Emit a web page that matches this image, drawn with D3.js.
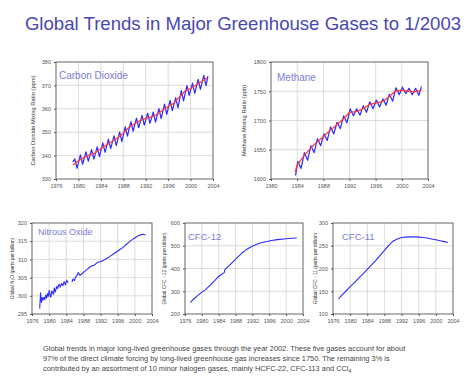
<!DOCTYPE html>
<html>
<head>
<meta charset="utf-8">
<script src="https://cdn.jsdelivr.net/npm/d3@7"></script>
<style>
body { margin: 0; background: #fff; }
svg { font-family: "Liberation Sans", Arial, sans-serif; }
.grid line { stroke: #d4d4d4; stroke-width: 0.8; }
.tick text { fill: #555; font-size: 5.5px; }
.frame { fill: none; stroke: #555; stroke-width: 0.9; }
</style>
</head>
<body>
<svg id="chart" width="467" height="379"></svg>
<script>
// CO2 (ppm): trend line (red) and seasonal record (blue)
var co2Years = [1979, 1980, 1981, 1982, 1983, 1984, 1985, 1986, 1987, 1988, 1989, 1990, 1991,
    1992, 1993, 1994, 1995, 1996, 1997, 1998, 1999, 2000, 2001, 2002, 2003];
var co2Trend = [336.0, 337.8, 339.2, 340.3, 341.2, 343.0, 344.6, 346.0, 347.6, 349.6, 352.0, 353.6, 355.0,
    355.9, 356.4, 357.6, 359.5, 361.0, 362.3, 365.0, 367.6, 368.6, 370.2, 371.8, 373.2];
var co2MonthX = [1979.0, 1979.35, 1979.75, 1980.35, 1980.75, 1981.35, 1981.75, 1982.35, 1982.75, 1983.35, 1983.75,
    1984.35, 1984.75, 1985.35, 1985.75, 1986.35, 1986.75, 1987.35, 1987.75, 1988.35, 1988.75, 1989.35, 1989.75,
    1990.35, 1990.75, 1991.35, 1991.75, 1992.35, 1992.75, 1993.35, 1993.75, 1994.35, 1994.75, 1995.35, 1995.75,
    1996.35, 1996.75, 1997.35, 1997.75, 1998.35, 1998.75, 1999.35, 1999.75, 2000.35, 2000.75, 2001.35, 2001.75,
    2002.35, 2002.75, 2003.1];
var co2Month = [337.2, 338.6, 334.5, 340.3, 336.3, 341.6, 337.6, 342.6, 338.5, 343.7, 339.6,
    345.4, 341.4, 347.0, 343.0, 348.4, 344.3, 350.1, 346.0, 352.3, 348.3, 354.5, 350.4,
    356.0, 351.9, 357.2, 353.0, 358.1, 353.8, 358.6, 354.3, 360.1, 355.8, 362.0, 357.6,
    363.6, 359.2, 364.8, 360.4, 367.8, 363.4, 369.9, 365.7, 371.0, 366.6, 372.6, 368.3,
    374.3, 369.9, 374.0];

// CH4 (ppb)
var ch4Years = [1983.7, 1984, 1985, 1986, 1987, 1988, 1989, 1990, 1991, 1992, 1993, 1994, 1995,
    1996, 1997, 1998, 1999, 2000, 2001, 2002, 2003];
var ch4Trend = [1612, 1624, 1639, 1652, 1663, 1672, 1683, 1692, 1702, 1714, 1715, 1720, 1727,
    1730, 1732, 1740, 1750, 1752, 1750, 1749, 1752];
var ch4MonthX = [1983.75, 1984.1, 1984.6, 1985.1, 1985.6, 1986.1, 1986.6, 1987.1, 1987.6, 1988.1, 1988.6,
    1989.1, 1989.6, 1990.1, 1990.6, 1991.1, 1991.6, 1992.1, 1992.6, 1993.1, 1993.6, 1994.1, 1994.6,
    1995.1, 1995.6, 1996.1, 1996.6, 1997.1, 1997.6, 1998.1, 1998.6, 1999.1, 1999.6, 2000.1, 2000.6,
    2001.1, 2001.6, 2002.1, 2002.6, 2003.0];
var ch4Month = [1606, 1630, 1618, 1645, 1632, 1657, 1645, 1669, 1657, 1677, 1666,
    1689, 1677, 1697, 1686, 1708, 1696, 1720, 1708, 1720, 1709, 1725, 1714,
    1732, 1720, 1735, 1723, 1737, 1726, 1745, 1733, 1756, 1744, 1757, 1746,
    1755, 1744, 1755, 1743, 1758];

// N2O (ppb), gap in 1985
var n2oYears = [1977.8, 1978.0, 1978.2, 1978.4, 1978.6, 1978.8, 1979.0, 1979.2, 1979.4, 1979.6, 1979.8,
    1980.0, 1980.2, 1980.4, 1980.6, 1980.8, 1981.0, 1981.2, 1981.4, 1981.6, 1981.8, 1982.0, 1982.3,
    1982.6, 1982.9, 1983.2, 1983.5, 1983.8, 1984.1, 1984.4,
    null,
    1985.3, 1985.6, 1985.9, 1986.2, 1986.5, 1986.8, 1987.2, 1987.6, 1988.0, 1988.5, 1989.0, 1989.5,
    1990.0, 1990.5, 1991.0, 1991.5, 1992.0, 1992.5, 1993.0, 1993.5, 1994.0, 1994.5, 1995.0, 1995.5,
    1996.0, 1996.5, 1997.0, 1997.5, 1998.0, 1998.5, 1999.0, 1999.5, 2000.0, 2000.5, 2001.0, 2001.5,
    2002.0, 2002.5];
var n2oValues = [296.5, 300.8, 298.2, 299.5, 298.8, 299.6, 299.0, 300.2, 299.4, 300.6, 299.8,
    301.5, 300.2, 299.6, 301.4, 300.8, 300.4, 302.2, 301.0, 301.8, 302.6, 302.0, 303.2,
    302.4, 303.4, 302.8, 303.9, 303.0, 304.3, 303.6,
    null,
    303.8, 304.6, 304.2, 305.2, 305.6, 306.4, 305.6, 306.0, 306.4, 306.9, 307.4, 307.9,
    308.3, 308.4, 308.9, 309.3, 309.4, 309.6, 310.0, 310.3, 310.7, 311.1, 311.5, 311.9,
    312.3, 312.7, 313.1, 313.6, 314.1, 314.6, 315.1, 315.5, 315.9, 316.3, 316.6, 316.8,
    316.9, 316.7];

// CFC-12 (ppt)
var cfc12Years = [1977.3, 1978.0, 1979.0, 1980.0, 1980.8, 1982.0, 1983.0, 1983.9, 1984.8, 1985.3, 1985.5,
    1986.5, 1987.5, 1988.5, 1989.5, 1990.5, 1991.5, 1992.5, 1993.5, 1994.5, 1995.5, 1996.5, 1997.5,
    1998.5, 1999.5, 2000.5, 2001.5, 2002.5];
var cfc12Values = [251, 265, 281, 296, 306, 327, 346, 364, 376, 382, 396,
    413, 431, 450, 468, 482, 493, 502, 510, 515, 519, 523, 526,
    528, 530, 532, 533, 534];

// CFC-11 (ppt)
var cfc11Years = [1977.3, 1978.0, 1979.0, 1980.0, 1981.0, 1982.0, 1983.0, 1984.0, 1985.0, 1986.0, 1987.0,
    1988.0, 1989.0, 1990.0, 1991.0, 1992.0, 1993.0, 1994.0, 1995.0, 1996.0, 1997.0, 1998.0, 1999.0,
    2000.0, 2001.0, 2002.0, 2002.8];
var cfc11Values = [133, 141, 150, 160, 169, 179, 188, 198, 208, 218, 229,
    240, 251, 260, 265, 268, 269, 269.5, 269.5, 269, 268, 267, 265,
    263, 261, 259, 257];

var svg = d3.select("#chart");
var labelBlue = "#7c7cd8";
var lineBlue = "#2b2bff";
var lineRed = "#ff3b3b";

svg.append("text")
    .attr("x", 243).attr("y", 30)
    .attr("text-anchor", "middle")
    .attr("font-size", "18.6px")
    .attr("fill", "#4848b4")
    .text("Global Trends in Major Greenhouse Gases to 1/2003");

function panel(p) {
    var x = d3.scaleLinear().domain(p.xDomain).range([p.left, p.right]);
    var y = d3.scaleLinear().domain(p.yDomain).range([p.bottom, p.top]);
    var g = svg.append("g");

    g.append("g").attr("class", "grid")
        .selectAll("line").data(p.xTicks.slice(1, -1)).enter().append("line")
        .attr("x1", function (d) { return x(d); }).attr("x2", function (d) { return x(d); })
        .attr("y1", p.top).attr("y2", p.bottom);
    g.append("g").attr("class", "grid")
        .selectAll("line").data(p.yTicks.slice(1, -1)).enter().append("line")
        .attr("y1", function (d) { return y(d); }).attr("y2", function (d) { return y(d); })
        .attr("x1", p.left).attr("x2", p.right);

    g.append("rect").attr("class", "frame")
        .attr("x", p.left).attr("y", p.top)
        .attr("width", p.right - p.left).attr("height", p.bottom - p.top);

    g.append("g")
        .attr("transform", "translate(0," + p.bottom + ")")
        .call(d3.axisBottom(x).tickValues(p.xTicks).tickFormat(d3.format("d")).tickSize(2).tickPadding(3))
        .call(function (a) { a.select(".domain").remove(); a.selectAll(".tick line").attr("stroke", "#555"); });
    g.append("g")
        .attr("transform", "translate(" + p.left + ",0)")
        .call(d3.axisLeft(y).tickValues(p.yTicks).tickFormat(d3.format("d")).tickSize(2).tickPadding(3))
        .call(function (a) { a.select(".domain").remove(); a.selectAll(".tick line").attr("stroke", "#555"); });

    g.append("text")
        .attr("transform", "translate(" + p.yLabelX + "," + ((p.top + p.bottom) / 2) + ") rotate(-90)")
        .attr("text-anchor", "middle")
        .attr("font-size", p.yLabelSize + "px")
        .attr("fill", "#333")
        .text(p.yLabel);

    g.append("text")
        .attr("x", p.left + p.nameDx).attr("y", p.top + p.nameDy)
        .attr("font-size", p.nameSize + "px")
        .attr("fill", labelBlue)
        .text(p.name);

    p.series.forEach(function (s) {
        var pts = s.xs.map(function (d, i) { return [d, s.ys[i]]; });
        g.append("path")
            .datum(pts)
            .attr("fill", "none")
            .attr("stroke", s.color)
            .attr("stroke-width", s.width)
            .attr("stroke-linejoin", "round")
            .attr("d", d3.line()
                .defined(function (d) { return d[0] !== null; })
                .x(function (d) { return x(d[0]); })
                .y(function (d) { return y(d[1]); }));
    });
}

var yearTicks = [1976, 1980, 1984, 1988, 1992, 1996, 2000, 2004];

panel({
    left: 56, right: 213, top: 62, bottom: 179,
    xDomain: [1976, 2004], yDomain: [330, 380],
    xTicks: yearTicks, yTicks: [330, 340, 350, 360, 370, 380],
    yLabel: "Carbon Dioxide Mixing Ratio (ppm)", yLabelX: 35, yLabelSize: 5.8,
    name: "Carbon Dioxide", nameDx: 3, nameDy: 17, nameSize: 10,
    series: [
        {xs: co2MonthX, ys: co2Month, color: lineBlue, width: 1.2},
        {xs: co2Years, ys: co2Trend, color: lineRed, width: 1.3}
    ]
});

panel({
    left: 271, right: 428, top: 62, bottom: 179,
    xDomain: [1980, 2004], yDomain: [1600, 1800],
    xTicks: [1980, 1984, 1988, 1992, 1996, 2000, 2004], yTicks: [1600, 1650, 1700, 1750, 1800],
    yLabel: "Methane Mixing Ratio (ppb)", yLabelX: 246, yLabelSize: 5.8,
    name: "Methane", nameDx: 6, nameDy: 19, nameSize: 10,
    series: [
        {xs: ch4MonthX, ys: ch4Month, color: lineBlue, width: 1.2},
        {xs: ch4Years, ys: ch4Trend, color: lineRed, width: 1.3}
    ]
});

panel({
    left: 32, right: 152, top: 223, bottom: 314,
    xDomain: [1976, 2004], yDomain: [295, 320],
    xTicks: yearTicks, yTicks: [295, 300, 305, 310, 315, 320],
    yLabel: "Global N\u2082O (parts per billion)", yLabelX: 14, yLabelSize: 4.8,
    name: "Nitrous Oxide", nameDx: 6, nameDy: 12, nameSize: 9,
    series: [{xs: n2oYears, ys: n2oValues, color: lineBlue, width: 1.1}]
});

panel({
    left: 185, right: 303, top: 223, bottom: 314,
    xDomain: [1976, 2004], yDomain: [200, 600],
    xTicks: yearTicks, yTicks: [200, 300, 400, 500, 600],
    yLabel: "Global CFC - 12 (parts per trillion)", yLabelX: 166, yLabelSize: 4.8,
    name: "CFC-12", nameDx: 3, nameDy: 17, nameSize: 9.5,
    series: [{xs: cfc12Years, ys: cfc12Values, color: lineBlue, width: 1.1}]
});

panel({
    left: 333, right: 453, top: 223, bottom: 314,
    xDomain: [1976, 2004], yDomain: [100, 300],
    xTicks: yearTicks, yTicks: [100, 150, 200, 250, 300],
    yLabel: "Global CFC - 11 (parts per trillion)", yLabelX: 317, yLabelSize: 4.8,
    name: "CFC-11", nameDx: 9, nameDy: 17, nameSize: 9.5,
    series: [{xs: cfc11Years, ys: cfc11Values, color: lineBlue, width: 1.1}]
});

var caption = svg.append("text")
    .attr("font-size", "7.4px")
    .attr("fill", "#444");
caption.append("tspan").attr("x", 43).attr("y", 351)
    .text("Global trends in major long-lived greenhouse gases through the year 2002.  These five gases account for about");
caption.append("tspan").attr("x", 43).attr("y", 361)
    .text("97% of the direct climate forcing by long-lived greenhouse gas increases since 1750.  The remaining 3% is");
caption.append("tspan").attr("x", 43).attr("y", 371)
    .text("contributed by an assortment of 10 minor halogen gases, mainly HCFC-22, CFC-113 and CCl");
caption.append("tspan").attr("dy", 1.5).attr("font-size", "5px").text("4");
</script>
</body>
</html>
